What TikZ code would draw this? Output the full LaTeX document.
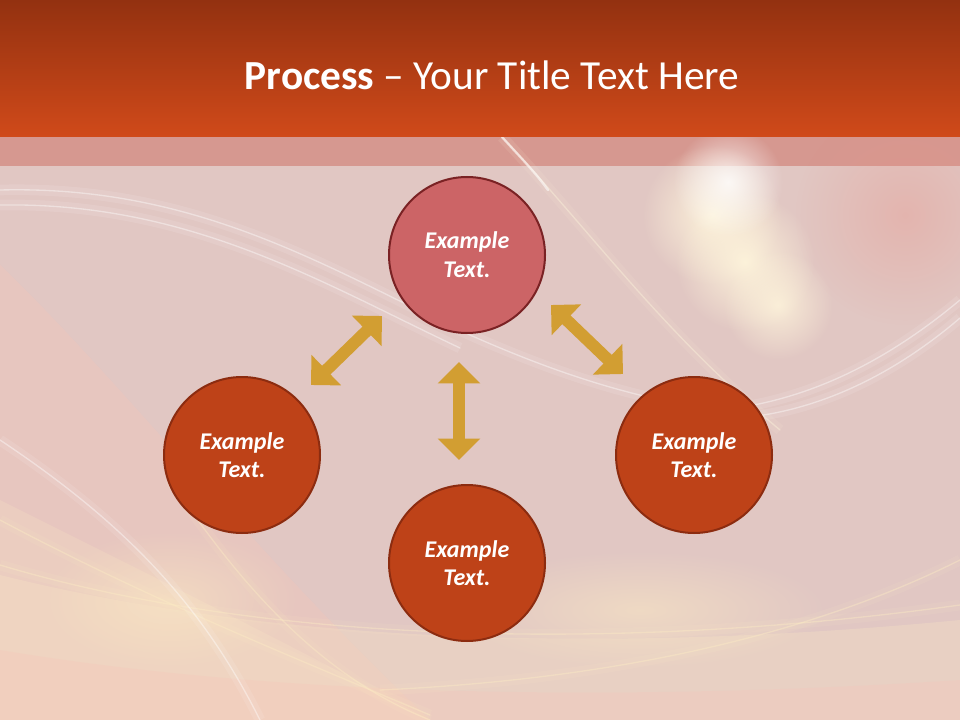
\documentclass[tikz,border=0pt]{standalone}
\usepackage{fontspec}
\setmainfont{Carlito}
\usetikzlibrary{arrows.meta,fadings}

\definecolor{hdrTop}{RGB}{147,49,16}
\definecolor{hdrBot}{RGB}{208,74,26}
\definecolor{bandCol}{RGB}{214,152,144}
\definecolor{bgCol}{RGB}{225,199,195}
\definecolor{salmonCol}{RGB}{248,196,184}
\definecolor{creamCol}{RGB}{253,236,196}
\definecolor{paleCol}{RGB}{255,246,220}
\definecolor{redGlow}{RGB}{232,146,136}
\definecolor{topFill}{RGB}{204,100,102}
\definecolor{topEdge}{RGB}{122,34,36}
\definecolor{stepFill}{RGB}{190,66,24}
\definecolor{stepEdge}{RGB}{140,44,16}
\definecolor{arrowGold}{RGB}{210,158,50}

\tikzfading[name=glowfade, inner color=transparent!0, outer color=transparent!100]

\tikzset{every picture/.style={line width=0.75pt}}
\tikzset{
  stepcircle/.style={circle, draw=stepEdge, fill=stepFill, line width=1.5pt,
    minimum size=117pt, inner sep=0pt, text=white, align=center,
    font=\fontsize{18}{21.5}\selectfont\bfseries\itshape},
  topcircle/.style={stepcircle, draw=topEdge, fill=topFill},
  dblarrow/.style={draw=arrowGold, line width=9pt,
    {Triangle[width=31pt,length=16pt]}-{Triangle[width=31pt,length=16pt]}},
  glowline/.style={draw=#1, line width=1pt, opacity=0.4, line cap=round,
    preaction={draw=#1, line width=8pt, opacity=0.1}},
  glowline/.default=white,
  glowspot/.style={fill=#1, path fading=glowfade}
}

\begin{document}
\begin{tikzpicture}[x=0.75pt,y=0.75pt,yscale=-1,xscale=1]
\useasboundingbox (0,0) rectangle (960,720);

%Background
\fill[bgCol] (0,137) rectangle (960,720);
\fill[bandCol] (0,137) rectangle (960,166);
\fill[salmonCol, opacity=0.3] (0,265) .. controls (120,380) and (260,560) .. (430,720) -- (0,720) -- cycle;
\fill[creamCol, opacity=0.2] (0,500) .. controls (200,600) and (320,660) .. (430,720) -- (0,720) -- cycle;
\fill[creamCol, opacity=0.25] (0,575) .. controls (300,650) and (650,650) .. (960,620) -- (960,720) -- (0,720) -- cycle;
\fill[salmonCol, opacity=0.25] (0,650) .. controls (300,700) and (650,700) .. (960,680) -- (960,720) -- (0,720) -- cycle;
\fill[glowspot=redGlow, opacity=0.35] (905,215) circle (110);
\fill[glowspot=paleCol, opacity=0.9] (712,215) circle (70);
\fill[glowspot=paleCol, opacity=0.9] (745,262) circle (70);
\fill[glowspot=paleCol, opacity=0.8] (778,305) circle (55);
\fill[glowspot=white, opacity=0.8] (728,182) circle (55);
\fill[glowspot=creamCol, opacity=0.5] (640,610) ellipse (190 and 60);
\fill[glowspot=creamCol, opacity=0.5] (170,600) ellipse (130 and 70);

%Swoosh lines
\draw[glowline=paleCol] (502,137) .. controls (590,230) and (660,330) .. (780,430);
\draw[white, line width=1.8pt, opacity=0.55, line cap=round] (502,137) .. controls (520,157) and (535,172) .. (548,190);
\draw[glowline] (0,190) .. controls (200,185) and (330,270) .. (470,335) .. controls (560,375) and (640,400) .. (720,410);
\draw[glowline] (0,205) .. controls (190,202) and (320,282) .. (460,348);
\draw[glowline] (960,300) .. controls (900,350) and (820,400) .. (720,410);
\draw[glowline] (960,318) .. controls (905,365) and (830,410) .. (740,418);
\draw[glowline=creamCol] (0,520) .. controls (150,600) and (300,660) .. (430,715);
\draw[glowline=creamCol] (0,565) .. controls (250,640) and (600,655) .. (960,605);
\draw[glowline=creamCol] (170,480) .. controls (250,600) and (330,680) .. (430,720);
\draw[glowline=creamCol] (960,560) .. controls (800,640) and (600,680) .. (380,690);
\draw[glowline] (0,440) .. controls (120,520) and (200,600) .. (260,720);

%Header
\shade[top color=hdrTop, bottom color=hdrBot] (0,0) rectangle (960,137);

% Text Node
\node[text=white, font=\fontsize{31}{36}\selectfont] (title) at (492,75)
  {\textbf{Process} -- Your Title Text Here};

%Shape: Circles
\node[topcircle] (top) at (467,255) {Example\\Text.};
\node[stepcircle] (left) at (242,455) {Example\\Text.};
\node[stepcircle] (right) at (694,455) {Example\\Text.};
\node[stepcircle] (bottom) at (467,563) {Example\\Text.};

%Double Arrows
\coordinate (la1) at (382,316);
\coordinate (la2) at (311,385);
\coordinate (ra1) at (551,305);
\coordinate (ra2) at (623,374);
\coordinate (va1) at (459,362);
\coordinate (va2) at (459,460);
\draw[dblarrow] (la1) -- (la2);
\draw[dblarrow] (ra1) -- (ra2);
\draw[dblarrow] (va1) -- (va2);

\end{tikzpicture}
\end{document}
